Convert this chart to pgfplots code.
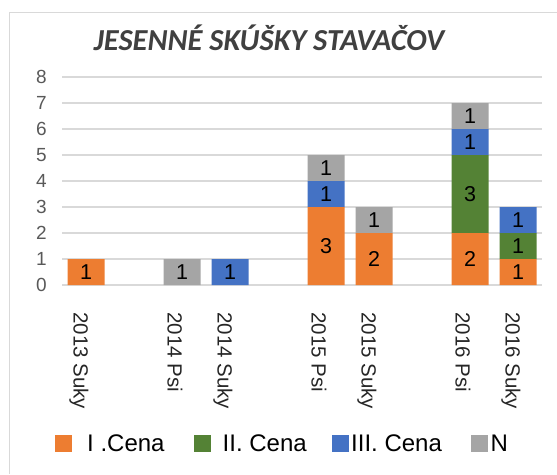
\documentclass[border=0pt]{standalone}
\usepackage{pgfplots}
\pgfplotsset{compat=1.18}
\usepackage{fontspec}
\setmainfont{Liberation Sans}
\newfontfamily\titlefont{Carlito}
\definecolor{cOrange}{HTML}{ED7D31}
\definecolor{cGreen}{HTML}{548235}
\definecolor{cBlue}{HTML}{4472C4}
\definecolor{cGray}{HTML}{A5A5A5}
\definecolor{gridc}{HTML}{D9D9D9}
\definecolor{tickc}{HTML}{595959}
\definecolor{xtickc}{HTML}{262626}
\definecolor{titlec}{HTML}{404040}
\begin{document}
\begin{tikzpicture}
\useasboundingbox (0,0) rectangle (557pt,-474pt);
\draw[gridc, line width=1pt] (9.5pt,-474pt) -- (9.5pt,-12pt) -- (557pt,-12pt);
\node[anchor=base, font=\titlefont\bfseries\itshape\fontsize{30.5}{36}\selectfont, text=titlec] at (269pt,-50pt) {JESENNÉ SKÚŠKY STAVAČOV};
\begin{axis}[
  at={(62pt,-285pt)}, anchor=south west,
  scale only axis, width=480pt, height=208pt,
  ybar stacked, bar width=37pt,
  xmin=-0.5, xmax=9.5, ymin=0, ymax=8,
  enlargelimits=false,
  ytick={0,...,8},
  xtick={0,2,3,5,6,8,9},
  xticklabels={2013 Suky,2014 Psi,2014 Suky,2015 Psi,2015 Suky,2016 Psi,2016 Suky},
  axis line style={draw=none},
  major tick length=0pt,
  ymajorgrids, grid style={gridc, line width=1.2pt},
  /pgf/number format/assume math mode=true,
  yticklabel style={font=\fontsize{19}{19}\selectfont, text=tickc, anchor=east, inner sep=0pt, xshift=-15pt},
  xticklabel style={xshift=-7pt, font=\fontsize{20.5}{20.5}\selectfont, text=xtickc, rotate=-90, anchor=west, inner sep=0pt},
  xticklabel shift=27pt,
  legend columns=4,
  legend cell align=left,
  legend style={at={(-0.0146,-0.764)}, anchor=west, draw=none, fill=none, inner sep=0pt,
    font=\fontsize{24}{24}\selectfont,
    /tikz/every even column/.append style={column sep=0pt},
    /tikz/every odd column/.append style={column sep=0pt},
    nodes={inner sep=0pt}},
  legend image code/.code={\fill[#1] (0pt,-8.5pt) rectangle (17pt,8.5pt);},
]
\addplot[fill=cOrange, draw=none] coordinates {(0,1) (2,0) (3,0) (5,3) (6,2) (8,2) (9,1)};
\addplot[fill=cGreen, draw=none] coordinates {(0,0) (2,0) (3,0) (5,0) (6,0) (8,3) (9,1)};
\addplot[fill=cBlue, draw=none] coordinates {(0,0) (2,0) (3,1) (5,1) (6,0) (8,1) (9,1)};
\addplot[fill=cGray, draw=none] coordinates {(0,0) (2,1) (3,0) (5,1) (6,1) (8,1) (9,0)};
\addlegendentry{\makebox[121.5pt][l]{\hspace{15pt}I .Cena}}
\addlegendentry{\makebox[121.5pt][l]{\hspace{12pt}II. Cena}}
\addlegendentry{\makebox[121.5pt][l]{\hspace{2pt}III. Cena}}
\addlegendentry{\makebox[40pt][l]{\hspace{3pt}N}}
\end{axis}
\begin{axis}[
  at={(62pt,-285pt)}, anchor=south west,
  scale only axis, width=480pt, height=208pt,
  xmin=-0.5, xmax=9.5, ymin=0, ymax=8,
  enlargelimits=false, hide axis, clip=false,
]
\addplot[draw=none, mark=none, only marks,
  nodes near coords, point meta=explicit symbolic,
  nodes near coords style={anchor=center, inner sep=0pt, font=\fontsize{21.5}{21.5}\selectfont, text=black}]
  coordinates {(0,0.5)[1] (2,0.5)[1] (3,0.5)[1] (5,1.5)[3] (5,3.5)[1] (5,4.5)[1]
    (6,1)[2] (6,2.5)[1] (8,1)[2] (8,3.5)[3] (8,5.5)[1] (8,6.5)[1]
    (9,0.5)[1] (9,1.5)[1] (9,2.5)[1]};
\end{axis}
\end{tikzpicture}
\end{document}
